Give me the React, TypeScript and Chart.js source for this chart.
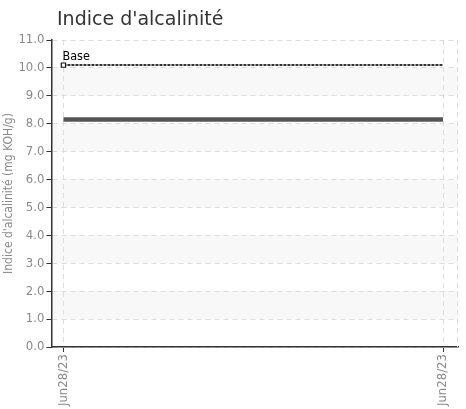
import React, { useEffect, useRef } from "react";
import { Chart, registerables } from "chart.js";

Chart.register(...registerables);

const chartTitle = "Indice d'alcalinité";
const yAxisTitle = "Indice d'alcalinité (mg KOH/g)";
const dateLabels = ["Jun28/23", "Jun28/23"];
const xPositions = [0, 1];
const baseLabel = "Base";
const baseValues = [10.1, 10.1];
const sampleValues = [8.15, 8.15];
const yMin = 0;
const yMax = 11;

const NARROW = "'DejaVu Sans Condensed', 'Liberation Sans Narrow', Roboto, sans-serif";

const decorPlugin = {
  id: "decor",
  beforeDraw(chart: any) {
    const { ctx, chartArea } = chart;
    const y = chart.scales.y;
    ctx.save();
    ctx.fillStyle = "#f8f8f8";
    for (let v = 1; v < yMax; v += 2) {
      const top = y.getPixelForValue(v + 1);
      const bot = y.getPixelForValue(v);
      ctx.fillRect(chartArea.left, top, chartArea.right - chartArea.left, bot - top);
    }
    ctx.restore();
  },
  afterDatasetsDraw(chart: any) {
    const { ctx, chartArea } = chart;
    ctx.save();
    ctx.strokeStyle = "#dddddd";
    ctx.lineWidth = 1;
    ctx.setLineDash([5, 4]);
    ctx.beginPath();
    ctx.moveTo(chartArea.right - 0.5, chartArea.top);
    ctx.lineTo(chartArea.right - 0.5, chartArea.bottom);
    ctx.stroke();
    ctx.setLineDash([]);
    const meta = chart.getDatasetMeta(0);
    const p = meta.data[0];
    if (p) {
      ctx.fillStyle = "#000";
      ctx.font = `12.5px ${NARROW}`;
      ctx.textAlign = "left";
      ctx.textBaseline = "alphabetic";
      ctx.fillText(baseLabel, p.x - 1, p.y - 5);
    }
    ctx.fillStyle = "#333";
    ctx.font = "19px 'DejaVu Sans', sans-serif";
    ctx.fillText(chartTitle, 57, 25);
    ctx.restore();
  },
};

export default function App() {
  const ref = useRef<HTMLCanvasElement>(null);
  useEffect(() => {
    if (!ref.current) return;
    const chart = new Chart(ref.current, {
      type: "line",
      data: {
        datasets: [
          {
            label: baseLabel,
            data: xPositions.map((x, i) => ({ x, y: baseValues[i] })),
            borderColor: "#333",
            borderWidth: 2,
            borderDash: [3, 1],
            pointStyle: "rect",
            pointRadius: [3, 0],
            pointBackgroundColor: "#fff",
            pointBorderColor: "#111",
            pointBorderWidth: 1.2,
            fill: false,
          },
          {
            label: chartTitle,
            data: xPositions.map((x, i) => ({ x, y: sampleValues[i] })),
            borderColor: "#555",
            borderWidth: 4.5,
            pointRadius: 0,
            fill: false,
          },
        ],
      },
      plugins: [decorPlugin],
      options: {
        animation: false,
        responsive: true,
        maintainAspectRatio: false,
        layout: { padding: { left: 2, right: 8, top: 40, bottom: 1 } },
        plugins: {
          legend: { display: false },
          title: { display: false },
          tooltip: { enabled: false },
        },
        scales: {
          x: {
            type: "linear",
            min: -0.0316,
            max: 1.0395,
            afterBuildTicks: (scale: any) => {
              scale.ticks = xPositions.map((v) => ({ value: v }));
            },
            ticks: {
              autoSkip: false,
              minRotation: 90,
              maxRotation: 90,
              padding: 2,
              color: "#8a8a8a",
              font: { family: NARROW, size: 13 },
              callback: (v: any) => {
                const i = xPositions.indexOf(Number(v));
                return i >= 0 ? dateLabels[i] : "";
              },
            },
            grid: {
              color: "#dddddd",
              tickColor: "#333",
              tickLength: 5,
              drawOnChartArea: true,
            },
            border: { color: "#333", width: 1.5, dash: [5, 4] },
          },
          y: {
            min: yMin,
            max: yMax,
            ticks: {
              stepSize: 1,
              padding: 2,
              color: "#8a8a8a",
              font: { family: NARROW, size: 13 },
              callback: (v: any) => Number(v).toFixed(1),
            },
            grid: {
              color: "#dddddd",
              tickColor: "#333",
              tickLength: 5,
            },
            border: { color: "#333", width: 1.5, dash: [5, 4] },
            title: {
              display: true,
              text: yAxisTitle,
              color: "#8a8a8a",
              font: { family: NARROW, size: 12 },
              padding: 0,
            },
          },
        },
      },
    });
    return () => chart.destroy();
  }, []);
  return (
    <div style={{ position: "absolute", left: 0, top: 0, width: 466, height: 409, background: "#fff" }}>
      <canvas ref={ref} />
    </div>
  );
}
